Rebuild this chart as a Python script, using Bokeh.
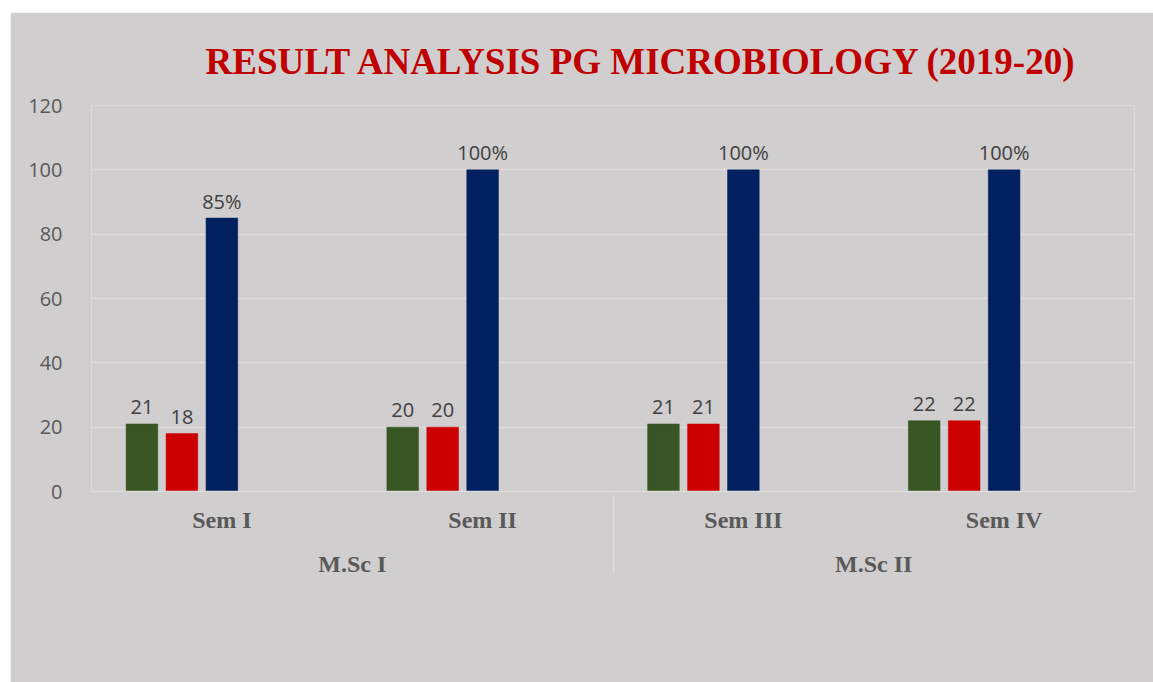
from bokeh.plotting import figure
from bokeh.models import (ColumnDataSource, FactorRange, Range1d, FixedTicker,
                          Legend, LegendItem)
from bokeh.transform import dodge
from bokeh.core.properties import value
from bokeh.embed import file_html
from bokeh.resources import INLINE

# ---- data ----
groups = ["M.Sc I", "M.Sc I", "M.Sc II", "M.Sc II"]
semesters = ["Sem I", "Sem II", "Sem III", "Sem IV"]
appeared = [21, 20, 21, 22]
passed = [18, 20, 21, 22]
pass_pct = [85, 100, 100, 100]
y_ticks = [0, 20, 40, 60, 80, 100, 120]
title_text = "RESULT ANALYSIS PG MICROBIOLOGY (2019-20)"
series_names = ["No. of students Appeared", "No. of students Passed", "Pass Percentage %"]
series_colors = ["#375623", "#CC0000", "#002060"]

factors = list(zip(groups, semesters))
src = ColumnDataSource(dict(
    x=factors,
    appeared=appeared,
    passed=passed,
    pct=pass_pct,
    appeared_lbl=[str(v) for v in appeared],
    passed_lbl=[str(v) for v in passed],
    pct_lbl=[f"{v}%" for v in pass_pct],
))

BG = "#D0CECE"
GRID = "#DDDBDB"
TXT = "#595959"

p = figure(
    frame_width=1043, frame_height=386, margin=(12, 0, 0, 10),
    x_range=FactorRange(*factors, range_padding=0, group_padding=0, factor_padding=0),
    y_range=Range1d(0, 120),
    output_backend="svg", toolbar_location=None,
    min_border_left=81, min_border_right=19, min_border_top=93, min_border_bottom=0,
)
p.background_fill_color = BG
p.border_fill_color = BG
p.outline_line_color = None

# title
p.title.text = title_text
p.title.text_font = "Liberation Serif"
p.title.text_font_style = "bold"
p.title.text_font_size = "37px"
p.title.text_color = "#C00000"
p.title.align = "left"
p.title.offset = 114
p.title.standoff = 48

offsets = [-0.3065, -0.1533, 0.0]
cols = ["appeared", "passed", "pct"]
lbls = ["appeared_lbl", "passed_lbl", "pct_lbl"]
bw = 0.1215
items = []
for off, col, lb, name, color in zip(offsets, cols, lbls, series_names, series_colors):
    xx = dodge("x", off, range=p.x_range)
    r = p.vbar(x=xx, top=col, width=bw, source=src, fill_color=color, line_color=color,
               line_width=0.5)
    p.text(x=xx, y=col, text=lb, source=src, text_align="center",
           text_baseline="alphabetic", y_offset=-17,
           text_font=value("Open Sans"), text_font_size="20px", text_color="#404040")
    items.append(LegendItem(label=name, renderers=[r]))

# y axis
p.yaxis.ticker = FixedTicker(ticks=y_ticks)
p.yaxis.axis_line_color = None
p.yaxis.major_tick_line_color = None
p.yaxis.minor_tick_line_color = None
p.yaxis.major_label_text_font = "Open Sans"
p.yaxis.major_label_text_font_size = "20px"
p.yaxis.major_label_text_color = TXT
p.yaxis.major_label_standoff = 23

# x axis
xa = p.xaxis[0]
xa.axis_line_color = GRID
xa.axis_line_width = 1.5
xa.major_tick_line_color = None
xa.major_tick_out = 0
xa.major_label_standoff = 15
xa.major_label_text_font = "Liberation Serif"
xa.major_label_text_font_style = "bold"
xa.major_label_text_font_size = "24px"
xa.major_label_text_color = TXT
xa.group_text_font = "Liberation Serif"
xa.group_text_font_style = "bold"
xa.group_text_font_size = "24px"
xa.group_text_color = TXT
xa.separator_line_color = GRID
xa.separator_line_width = 1.5

p.xgrid.grid_line_color = None
p.ygrid.grid_line_color = GRID
p.ygrid.grid_line_width = 1.5

# legend (blank title used as vertical spacer below the axis)
lg = Legend(items=items, orientation="horizontal", location="top_center")
lg.title = " "
lg.title_text_font_size = "10px"
lg.title_standoff = 47
lg.background_fill_alpha = 0
lg.border_line_color = None
lg.padding = 0
lg.margin = 0
lg.spacing = 88
lg.glyph_width = 12
lg.glyph_height = 12
lg.label_standoff = 5
lg.label_width = 250
lg.label_height = 50
lg.label_text_font = "Liberation Serif"
lg.label_text_font_style = "bold"
lg.label_text_font_size = "23px"
lg.label_text_color = TXT
p.add_layout(lg, "below")

open("out.html", "w").write(file_html(p, INLINE))
